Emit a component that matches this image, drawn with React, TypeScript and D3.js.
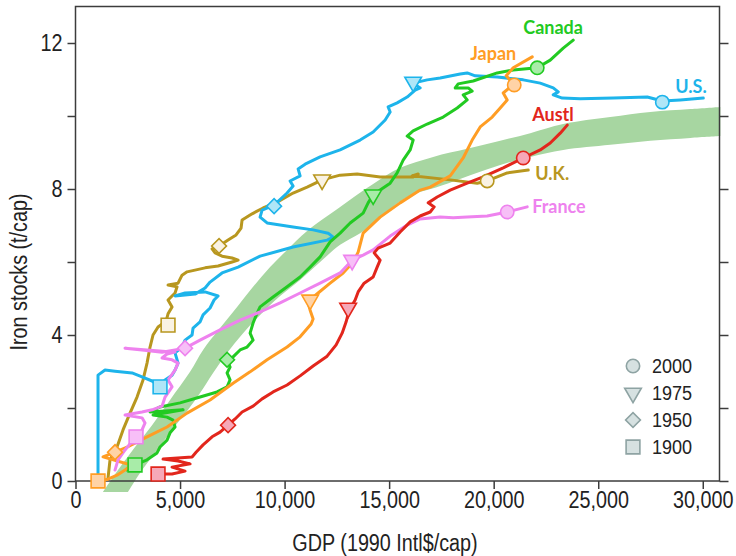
import { useEffect, useRef } from 'react';
import * as d3 from 'd3';

// GDP (1990 Intl$/cap) vs iron stocks (t/cap)
const countries = ['U.K.', 'U.S.', 'Canada', 'Japan', 'France', 'Austl'];

const ukPath = [
  [1555, 0.08], [1651, 0.58], [1986, 0.93], [2273, 1.4], [2608, 1.86], [2943, 2.3],
  [3230, 2.77], [3421, 3.23], [3565, 3.67], [3708, 4.0], [3948, 4.22], [4331, 4.38],
  [4426, 4.58], [4618, 4.77], [4426, 4.96], [4761, 5.15], [4857, 5.32], [4426, 5.37],
  [4905, 5.42], [5096, 5.64], [5335, 5.73], [6197, 5.84], [6819, 5.89], [7489, 6.0],
  [7776, 6.05], [7489, 6.11], [7010, 6.16], [6675, 6.25], [6532, 6.36], [6866, 6.44],
  [7297, 6.6], [7680, 6.74], [7919, 6.93], [7967, 7.15], [8446, 7.32], [8972, 7.48],
  [9642, 7.64], [10407, 7.89], [11077, 8.05], [11795, 8.25], [12656, 8.38], [13470, 8.41],
  [14570, 8.33], [16149, 8.33], [16389, 8.41], [16101, 8.36], [17920, 8.25], [19212, 8.16],
  [19690, 8.22], [20647, 8.44], [21652, 8.52],
];

const usPath = [
  [1077, 0.2], [1077, 2.9], [1412, 3.04], [1890, 3.01], [2704, 2.96], [3182, 2.85],
  [3661, 2.74], [4043, 2.58], [4283, 2.77], [4618, 2.9], [4761, 3.04], [4905, 3.23],
  [4761, 3.51], [5096, 3.67], [5240, 3.86], [5575, 4.0], [5622, 4.19], [5957, 4.36],
  [6101, 4.55], [6436, 4.74], [6627, 4.96], [6819, 5.07], [6197, 5.18], [5240, 5.15],
  [4761, 5.07], [5718, 5.12], [6197, 5.29], [6436, 5.45], [7010, 5.7], [7776, 5.86],
  [8828, 6.16], [10407, 6.41], [12034, 6.6], [12322, 6.68], [12082, 6.79], [11364, 6.88],
  [10407, 6.96], [9163, 7.07], [8828, 7.23], [8924, 7.42], [9498, 7.56], [10120, 7.89],
  [10407, 8.08], [10264, 8.22], [10742, 8.36], [10647, 8.55], [10982, 8.68], [11699, 8.88],
  [12656, 9.07], [13613, 9.34], [14235, 9.56], [14810, 9.89], [15049, 10.11], [14953, 10.25],
  [15384, 10.36], [15862, 10.52], [16245, 10.71], [16484, 10.77], [16149, 10.9], [16819, 10.99],
  [17441, 11.04], [18398, 11.15], [18733, 11.18], [19116, 11.1], [20169, 11.07], [21413, 10.99],
  [22226, 10.9], [22848, 10.77], [23088, 10.66], [22848, 10.58], [23279, 10.49], [24140, 10.47],
  [25719, 10.49], [27346, 10.52], [28064, 10.41], [28925, 10.44], [30026, 10.49],
];

const canadaPath = [
  [2464, 0.3], [2847, 0.44], [3421, 0.58], [3900, 0.77], [4043, 0.93], [4378, 1.12],
  [4522, 1.32], [4761, 1.48], [4665, 1.67], [4378, 1.75], [3708, 1.81], [5144, 1.95],
  [3565, 1.89], [4043, 2.03], [5000, 2.14], [5957, 2.3], [6771, 2.44], [7249, 2.58],
  [7393, 2.77], [7249, 2.96], [7393, 3.12], [7249, 3.32], [7536, 3.4], [7871, 3.59],
  [8206, 3.67], [8493, 3.86], [8350, 4.05], [8493, 4.33], [8685, 4.6], [8828, 4.77],
  [9450, 5.04], [10120, 5.32], [10742, 5.59], [11221, 5.86], [11699, 6.14], [12178, 6.55],
  [12656, 6.79], [13135, 7.07], [13757, 7.34], [13996, 7.62], [14235, 7.84], [14570, 7.97],
  [15049, 8.16], [15384, 8.44], [15671, 8.79], [16006, 9.07], [16149, 9.34], [15862, 9.45],
  [16149, 9.59], [16819, 9.78], [17585, 9.97], [18255, 10.22], [18733, 10.44], [18542, 10.58],
  [18972, 10.68], [18781, 10.77], [18159, 10.77], [18303, 10.88], [19020, 10.96], [20169, 11.18],
  [20934, 11.26], [22083, 11.32], [22705, 11.53], [23327, 11.86], [23805, 12.08],
];

const japanPath = [
  [1077, 0.0], [1555, 0.05], [1986, 0.16], [2369, 0.3], [2656, 0.44], [1316, 0.66],
  [1890, 0.79], [2464, 0.93], [3421, 1.21], [4378, 1.48], [5335, 1.86], [6436, 2.22],
  [7536, 2.68], [8350, 2.99], [9163, 3.32], [10120, 3.67], [10742, 3.95], [11269, 4.3],
  [11364, 4.44], [11221, 4.68], [11125, 4.88], [11269, 4.99], [11604, 5.15], [12178, 5.42],
  [12800, 5.7], [13279, 6.0], [13518, 6.27], [13757, 6.79], [14570, 7.23], [15527, 7.62],
  [16484, 7.97], [16963, 8.05], [17920, 8.36], [18542, 8.85], [18972, 9.34], [19355, 9.7],
  [19929, 9.97], [20312, 10.22], [20647, 10.44], [20456, 10.63], [20791, 10.79], [20983, 10.85],
  [20599, 11.1], [20934, 11.32], [21844, 11.62],
];

const francePath = [
  [1890, 0.3], [2034, 0.58], [2369, 0.85], [2751, 1.12], [2895, 1.21], [3182, 1.4],
  [3326, 1.59], [3182, 1.73], [2369, 1.81], [3182, 1.89], [3661, 1.95], [4139, 2.05],
  [4283, 2.3], [4618, 2.58], [4426, 2.77], [4761, 3.04], [4905, 3.23], [4618, 3.32],
  [4139, 3.37], [4378, 3.48], [4761, 3.53], [2369, 3.64], [3182, 3.59], [4139, 3.53],
  [5240, 3.64], [5957, 3.86], [6914, 4.14], [7871, 4.41], [8828, 4.63], [9785, 4.88],
  [10742, 5.15], [11699, 5.42], [12656, 5.7], [13231, 6.05], [13757, 6.19], [14235, 6.33],
  [15049, 6.71], [15862, 7.01], [16484, 7.18], [17441, 7.23], [18063, 7.21], [18733, 7.23],
  [19690, 7.26], [20647, 7.37], [21604, 7.51],
];

const austlPath = [
  [3948, 0.19], [4618, 0.19], [5240, 0.27], [4618, 0.38], [5479, 0.47], [4905, 0.55],
  [4187, 0.6], [5575, 0.66], [5766, 0.79], [6101, 0.99], [6532, 1.21], [6914, 1.34],
  [7297, 1.53], [7632, 1.7], [7967, 1.89], [8493, 2.05], [8924, 2.25], [9450, 2.44],
  [10120, 2.63], [10742, 2.88], [11364, 3.15], [12034, 3.42], [12465, 3.73], [12752, 4.05],
  [12943, 4.36], [13087, 4.68], [13374, 4.96], [13518, 5.18], [13804, 5.42], [14235, 5.59],
  [14427, 5.86], [14570, 6.05], [14283, 6.25], [14475, 6.38], [15049, 6.52], [15527, 6.82],
  [16006, 7.1], [16484, 7.26], [16963, 7.37], [17154, 7.51], [16867, 7.62], [17298, 7.78],
  [17920, 7.97], [18733, 8.16], [19499, 8.33], [20456, 8.58], [21413, 8.85], [22226, 9.07],
  [22705, 9.26], [23183, 9.53], [23518, 9.75],
];

const paths = [ukPath, usPath, canadaPath, japanPath, francePath, austlPath];

// year markers, order: 2000, 1975, 1950, 1900
const markerYears = ['2000', '1975', '1950', '1900'];
const ukMarks = [[19690, 8.22], [11795, 8.25], [6866, 6.44], [4426, 4.27]];
const usMarks = [[28064, 10.38], [16149, 10.93], [9498, 7.53], [4043, 2.58]];
const canadaMarks = [[22083, 11.32], [14235, 7.84], [7249, 3.32], [2847, 0.44]];
const japanMarks = [[20983, 10.85], [11221, 4.96], [1890, 0.79], [1077, 0.0]];
const franceMarks = [[20647, 7.37], [13231, 6.05], [5240, 3.64], [2895, 1.21]];
const austlMarks = [[21413, 8.85], [13040, 4.74], [7297, 1.53], [3948, 0.19]];
const marks = [ukMarks, usMarks, canadaMarks, japanMarks, franceMarks, austlMarks];

// shaded trend band, upper and lower edges
const bandUpper = [
  [1316, -0.3], [2034, 0.3], [2847, 0.93], [3661, 1.53], [4522, 2.22], [5479, 2.99],
  [6101, 3.59], [6914, 4.19], [7728, 4.77], [8493, 5.32], [9307, 5.86], [10120, 6.33],
  [11077, 6.85], [12656, 7.51], [14235, 8.14], [15527, 8.58], [17106, 8.88], [18733, 9.1],
  [20312, 9.32], [21748, 9.53], [23327, 9.78], [25576, 9.97], [27489, 10.11], [29404, 10.19],
  [30839, 10.25],
];
const bandLower = [
  [2512, -0.3], [3182, 0.3], [3804, 0.77], [4618, 1.4], [5383, 1.95], [5957, 2.41],
  [6579, 2.96], [7249, 3.51], [8015, 4.05], [8828, 4.55], [9785, 5.07], [10742, 5.51],
  [11699, 6.0], [12656, 6.47], [13613, 6.79], [14235, 7.04], [15767, 7.75], [17441, 8.08],
  [18877, 8.38], [20312, 8.66], [21748, 8.88], [23327, 9.07], [25576, 9.21], [27489, 9.32],
  [29404, 9.4], [30839, 9.45],
];

const xTicks = [0, 5000, 10000, 15000, 20000, 25000, 30000];
const yTicks = [0, 2, 4, 6, 8, 10, 12];

const lineColors = ['#b8971f', '#1db4eb', '#22ca22', '#ff9d24', '#ee82ee', '#e2261c'];
const markFills = ['#f9f2e3', '#afe6f7', '#a8eca8', '#ffd3a6', '#f7bff7', '#f6a8b8'];

export default function App() {
  const ref = useRef<SVGSVGElement>(null);

  useEffect(() => {
    const svg = d3.select(ref.current);
    svg.selectAll('*').remove();

    const x = d3.scaleLinear().domain([0, 30800]).range([75.5, 719.5]);
    const y = d3.scaleLinear().domain([0, 13]).range([481, 6.5]);
    // narrow-looking sans: Liberation Sans squeezed horizontally
    const font = "'Liberation Sans', Arial, sans-serif";
    const squeeze = 'scale(0.86,1)';

    // band
    const edge = d3
      .line<number[]>()
      .x(d => x(d[0]))
      .y(d => y(d[1]))
      .curve(d3.curveCatmullRom);
    const bandD =
      edge(bandUpper) + (edge(bandLower.slice().reverse()) as string).replace(/^M/, 'L') + 'Z';
    svg.append('path').attr('d', bandD).attr('fill', '#a7d6a1');

    // frame
    svg
      .append('rect')
      .attr('x', x(0))
      .attr('y', y(13))
      .attr('width', x(30800) - x(0))
      .attr('height', y(0) - y(13))
      .attr('fill', 'none')
      .attr('stroke', '#3c3c3c')
      .attr('stroke-width', 1.5);

    const styleAxis = g => {
      g.select('.domain').remove();
      g.selectAll('line').attr('stroke', '#3c3c3c').attr('stroke-width', 1.5);
      g.selectAll('text')
        .attr('fill', '#222')
        .attr('transform', squeeze)
        .style('font-family', font)
        .style('font-size', '23px');
    };

    svg
      .append('g')
      .attr('transform', `translate(0,${y(0)})`)
      .call(
        d3
          .axisBottom(x)
          .tickValues(xTicks)
          .tickSize(8)
          .tickPadding(3)
          .tickFormat(d3.format(','))
      )
      .call(styleAxis);

    svg
      .append('g')
      .attr('transform', `translate(${x(0)},0)`)
      .call(
        d3
          .axisLeft(y)
          .tickValues(yTicks)
          .tickSize(8)
          .tickPadding(7)
          .tickFormat(d => ((d as number) % 4 === 0 ? String(d) : ''))
      )
      .call(styleAxis);

    svg
      .append('g')
      .attr('transform', `translate(${x(30800)},0)`)
      .call(d3.axisRight(y).tickValues(yTicks).tickSize(9).tickFormat(() => ''))
      .call(styleAxis);

    // axis titles
    svg
      .append('text')
      .attr('transform', `translate(385,551) ${squeeze}`)
      .attr('text-anchor', 'middle')
      .attr('fill', '#222')
      .style('font-family', font)
      .style('font-size', '23px')
      .text('GDP (1990 Intl$/cap)');
    svg
      .append('text')
      .attr('transform', `translate(27,272) rotate(-90) ${squeeze}`)
      .attr('text-anchor', 'middle')
      .attr('fill', '#222')
      .style('font-family', font)
      .style('font-size', '23px')
      .text('Iron stocks (t/cap)');

    // country lines
    const line = d3
      .line<number[]>()
      .x(d => x(d[0]))
      .y(d => y(d[1]));
    paths.forEach((p, i) => {
      svg
        .append('path')
        .attr('d', line(p))
        .attr('fill', 'none')
        .attr('stroke', lineColors[i])
        .attr('stroke-width', 3)
        .attr('stroke-linejoin', 'round')
        .attr('stroke-linecap', 'round');
    });

    // year markers
    const shapes = [
      { type: d3.symbolCircle, size: 140, rot: 0 },
      { type: d3.symbolTriangle, size: 120, rot: 180 },
      { type: d3.symbolSquare, size: 110, rot: 45 },
      { type: d3.symbolSquare, size: 190, rot: 0 },
    ];
    marks.forEach((m, i) => {
      m.forEach((d, j) => {
        const s = shapes[j];
        svg
          .append('path')
          .attr('d', d3.symbol().type(s.type).size(s.size)())
          .attr('transform', `translate(${x(d[0])},${y(d[1])}) rotate(${s.rot})`)
          .attr('fill', markFills[i])
          .attr('stroke', lineColors[i])
          .attr('stroke-width', 1.6);
      });
    });

    // country labels
    const labelAt = [
      [21987, 8.25],
      [28686, 10.63],
      [21413, 12.25],
      [18877, 11.53],
      [21844, 7.34],
      [21844, 9.86],
    ];
    countries.forEach((c, i) => {
      svg
        .append('text')
        .attr('x', x(labelAt[i][0]))
        .attr('y', y(labelAt[i][1]))
        .attr('fill', lineColors[i])
        .style('font-family', 'Lato, sans-serif')
        .style('font-weight', 'bold')
        .style('font-size', '18px')
        .text(c);
    });

    // legend
    const legend = svg.append('g').attr('transform', 'translate(633,366)');
    markerYears.forEach((yr, j) => {
      const s = shapes[j];
      legend
        .append('path')
        .attr('d', d3.symbol().type(s.type).size(s.size)())
        .attr('transform', `translate(0,${j * 27}) rotate(${s.rot})`)
        .attr('fill', '#d6e1e1')
        .attr('stroke', '#8ea3a3')
        .attr('stroke-width', 1.6);
      legend
        .append('text')
        .attr('transform', `translate(19,${j * 27 + 7}) ${squeeze}`)
        .attr('fill', '#222')
        .style('font-family', font)
        .style('font-size', '21px')
        .text(yr);
    });
  }, []);

  return (
    <svg
      ref={ref}
      width={736}
      height={556}
      style={{ position: 'absolute', left: 0, top: 0, background: '#fff' }}
    />
  );
}
